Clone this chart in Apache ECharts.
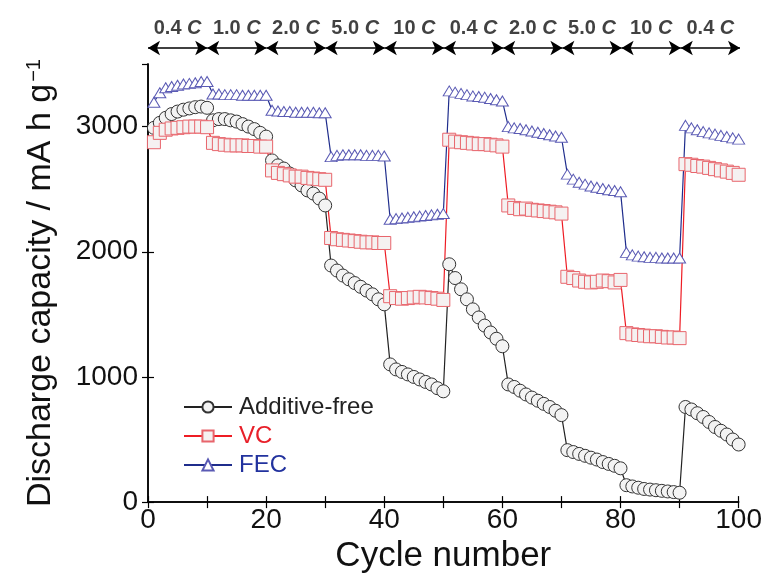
<!DOCTYPE html>
<html>
<head>
<meta charset="utf-8">
<script src="https://cdn.jsdelivr.net/npm/echarts@6/dist/echarts.min.js"></script>
<style>
  html, body { margin: 0; padding: 0; background: #ffffff; }
  #chart { width: 765px; height: 579px; }
</style>
</head>
<body>
<div id="chart"></div>
<script>
// Discharge capacity (mA h g^-1) per cycle, ten cycles per C-rate step
const additiveFree = [
  2990, 3030, 3070, 3100, 3120, 3135, 3145, 3155, 3160, 3150,
  3050, 3060, 3060, 3050, 3040, 3020, 3000, 2980, 2950, 2920,
  2730, 2690, 2665, 2625, 2570, 2530, 2490, 2465, 2425, 2370,
  1890, 1850, 1810, 1780, 1750, 1720, 1690, 1660, 1620, 1580,
  1100, 1060, 1040, 1020, 1000, 980, 960, 940, 910, 885,
  1900, 1790, 1700, 1620, 1540, 1475, 1410, 1355, 1305, 1245,
  940, 920, 890, 860, 835, 810, 785, 760, 730, 695,
  415, 400, 385, 370, 355, 340, 320, 305, 290, 270,
  135, 125, 115, 105, 100, 95, 90, 85, 80, 75,
  760, 740, 710, 680, 640, 600, 570, 540, 500, 460
];
const vc = [
  2875, 2950, 2975, 2985, 2990, 2995, 3000, 3000, 3000, 2995,
  2870, 2860, 2855, 2850, 2850, 2850, 2845, 2845, 2840, 2840,
  2650, 2630, 2620, 2610, 2600, 2600, 2590, 2585, 2580, 2575,
  2110, 2100, 2095, 2090, 2085, 2080, 2075, 2075, 2070, 2070,
  1645, 1630, 1625, 1630, 1635, 1640, 1635, 1630, 1625, 1615,
  2895, 2880, 2875, 2870, 2865, 2860, 2860, 2855, 2850, 2840,
  2370, 2350, 2340, 2345, 2335, 2330, 2325, 2320, 2315, 2305,
  1800, 1790, 1770, 1760, 1755, 1760, 1770, 1765, 1755, 1775,
  1350, 1340, 1335, 1330, 1325, 1325, 1320, 1315, 1315, 1310,
  2700, 2695, 2685, 2680, 2670, 2660, 2650, 2640, 2630, 2615
];
const fec = [
  3195, 3270, 3310, 3320, 3330, 3340, 3345, 3350, 3360, 3360,
  3260, 3260, 3255, 3255, 3255, 3250, 3250, 3250, 3250, 3250,
  3130, 3125, 3120, 3120, 3115, 3115, 3115, 3115, 3110, 3110,
  2760, 2770, 2775, 2775, 2775, 2775, 2770, 2770, 2770, 2765,
  2260, 2265, 2270, 2275, 2280, 2285, 2290, 2295, 2300, 2305,
  3285, 3275, 3265, 3255, 3245, 3240, 3235, 3225, 3215, 3205,
  3000, 2990, 2985, 2975, 2965, 2955, 2945, 2935, 2925, 2915,
  2620, 2580, 2555, 2540, 2525, 2515, 2505, 2495, 2490, 2480,
  1995, 1975, 1965, 1960, 1955, 1955, 1950, 1950, 1950, 1950,
  3010, 2990, 2975, 2960, 2950, 2940, 2930, 2920, 2910, 2900
];

// C-rate steps: start cycle, end cycle and rate value
const stepStarts = [0, 10, 20, 30, 40, 50, 60, 70, 80, 90];
const stepEnds   = [10, 20, 30, 40, 50, 60, 70, 80, 90, 100];
const stepRates  = ['0.4', '1.0', '2.0', '5.0', '10', '0.4', '2.0', '5.0', '10', '0.4'];

const FONT = '"Liberation Sans", Arial, Helvetica, sans-serif';

function toPairs(values) {
  return values.map((v, i) => [i + 1, v]);
}

const chart = echarts.init(document.getElementById('chart'), null, { renderer: 'canvas' });

const axisLineStyle = { color: '#000', width: 1.5 };

const option = {
  backgroundColor: '#ffffff',
  animation: false,
  textStyle: { fontFamily: FONT },
  grid: [
    { left: 148, right: 25, top: 64, bottom: 75 },
    { left: 148, right: 25, top: 20, height: 28 }
  ],
  xAxis: [
    {
      type: 'value', gridIndex: 0, min: 0, max: 100, interval: 20,
      name: 'Cycle number', nameLocation: 'middle', nameGap: 32,
      nameTextStyle: { fontSize: 35, color: '#111', fontFamily: FONT },
      axisLine: { lineStyle: axisLineStyle },
      axisTick: { inside: true, length: 6, lineStyle: { color: '#000', width: 1.2 } },
      minorTick: { show: true, splitNumber: 2, length: 6, lineStyle: { color: '#000', width: 1.2 } },
      axisLabel: { fontSize: 28, color: '#111', margin: 4, fontFamily: FONT, formatter: v => String(v) },
      splitLine: { show: false }
    },
    {
      type: 'value', gridIndex: 0, position: 'top', min: 0, max: 100, interval: 20,
      axisLine: { lineStyle: axisLineStyle },
      axisTick: { inside: true, length: 6, lineStyle: { color: '#000', width: 1.2 } },
      minorTick: { show: true, splitNumber: 2, length: 6, lineStyle: { color: '#000', width: 1.2 } },
      axisLabel: { show: false },
      splitLine: { show: false }
    },
    {
      type: 'value', gridIndex: 1, min: 0, max: 100, show: false
    }
  ],
  yAxis: [
    {
      type: 'value', gridIndex: 0, min: 0, max: 3500, interval: 1000,
      name: '{m|Discharge capacity / mA h g}{s|−1}',
      nameLocation: 'middle', nameGap: 90,
      nameTextStyle: {
        color: '#111', fontFamily: FONT,
        rich: {
          m: { fontSize: 34, fontFamily: FONT, color: '#111' },
          s: { fontSize: 20, fontFamily: FONT, color: '#111', verticalAlign: 'top', padding: [0, 0, 0, 2] }
        }
      },
      axisLine: { lineStyle: axisLineStyle },
      axisTick: { inside: true, length: 6, lineStyle: { color: '#000', width: 1.2 } },
      axisLabel: { fontSize: 28, color: '#111', margin: 10, showMaxLabel: false, fontFamily: FONT, formatter: v => String(v) },
      splitLine: { show: false }
    },
    {
      type: 'value', gridIndex: 0, position: 'right', min: 0, max: 3500, interval: 1000,
      axisLine: { show: true, lineStyle: axisLineStyle },
      axisTick: { show: true, inside: true, length: 6, lineStyle: { color: '#000', width: 1.2 } },
      axisLabel: { show: false },
      splitLine: { show: false }
    },
    {
      type: 'value', gridIndex: 1, min: 0, max: 1, show: false
    }
  ],
  legend: {
    orient: 'vertical',
    left: 183, top: 395,
    padding: 0,
    itemGap: 5,
    itemWidth: 48, itemHeight: 14,
    data: [
      { name: 'Additive-free', textStyle: { color: '#222' } },
      { name: 'VC', textStyle: { color: '#e8202a' } },
      { name: 'FEC', textStyle: { color: '#22329e' } }
    ],
    textStyle: { fontSize: 24, fontFamily: FONT, padding: [0, 0, 0, 2] }
  },
  series: [
    {
      name: 'Additive-free', type: 'line', xAxisIndex: 0, yAxisIndex: 0,
      data: toPairs(additiveFree),
      symbol: 'circle', symbolSize: 13,
      lineStyle: { color: '#222', width: 1.2 },
      itemStyle: { color: '#f3f3f3', borderColor: '#333', borderWidth: 1 }
    },
    {
      name: 'VC', type: 'line', xAxisIndex: 0, yAxisIndex: 0,
      data: toPairs(vc),
      symbol: 'rect', symbolSize: 13,
      lineStyle: { color: '#ee1c24', width: 1.2 },
      itemStyle: { color: '#f5f1f1', borderColor: '#e8656c', borderWidth: 1 }
    },
    {
      name: 'FEC', type: 'line', xAxisIndex: 0, yAxisIndex: 0,
      data: toPairs(fec),
      symbol: 'triangle', symbolSize: [12, 10],
      lineStyle: { color: '#1f2d8c', width: 1.2 },
      itemStyle: { color: '#ffffff', borderColor: '#5a5ab4', borderWidth: 1 }
    },
    {
      // C-rate step arrows and labels above the plot
      name: 'rates', type: 'scatter', xAxisIndex: 2, yAxisIndex: 2,
      symbolSize: 0, silent: true,
      data: stepStarts.map((s, i) => [(s + stepEnds[i]) / 2, 0.68, stepRates[i]]),
      label: {
        show: true, position: 'inside',
        formatter: p => '{n|' + p.value[2] + ' }{c|C}',
        rich: {
          n: { fontSize: 20, fontWeight: 'bold', color: '#111', fontFamily: FONT },
          c: { fontSize: 20, fontWeight: 'bold', fontStyle: 'italic', color: '#111', fontFamily: FONT }
        }
      },
      markLine: {
        silent: true,
        symbol: ['arrow', 'arrow'],
        symbolSize: [11, 12],
        label: { show: false },
        lineStyle: { color: '#000', width: 1.5, type: 'solid' },
        data: stepStarts.map((s, i) => [{ coord: [s, 0] }, { coord: [stepEnds[i], 0] }])
      }
    }
  ]
};

chart.setOption(option);
</script>
</body>
</html>
